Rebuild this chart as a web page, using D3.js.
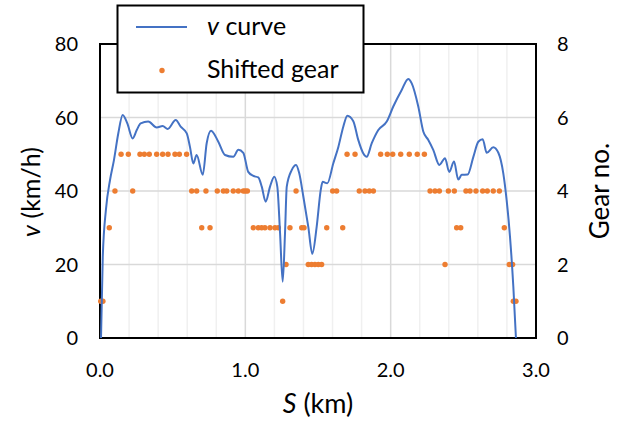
<!DOCTYPE html>
<html>
<head>
<meta charset="utf-8">
<script src="https://cdn.jsdelivr.net/npm/d3@7"></script>
<style>
  body { margin: 0; background: #fff; }
  svg { font-family: Lato, "Open Sans", sans-serif; }
</style>
</head>
<body>
<svg width="624" height="423"></svg>
<script>
// v curve: distance S (km) and speed v (km/h)
var curveS = [0.007, 0.019, 0.041, 0.069, 0.096, 0.126, 0.156, 0.188, 0.225, 0.253, 0.280, 0.332, 0.390, 0.431, 0.466, 0.521, 0.555, 0.597, 0.619, 0.642, 0.665, 0.707, 0.734, 0.764, 0.814, 0.860, 0.917, 0.952, 0.986, 1.020, 1.055, 1.089, 1.113, 1.140, 1.170, 1.199, 1.220, 1.239, 1.257, 1.273, 1.285, 1.319, 1.349, 1.371, 1.399, 1.433, 1.461, 1.491, 1.519, 1.532, 1.564, 1.605, 1.640, 1.674, 1.702, 1.743, 1.777, 1.812, 1.835, 1.870, 1.915, 1.973, 2.018, 2.076, 2.121, 2.145, 2.190, 2.225, 2.259, 2.293, 2.335, 2.374, 2.403, 2.436, 2.465, 2.489, 2.530, 2.569, 2.603, 2.633, 2.661, 2.706, 2.741, 2.775, 2.798, 2.821, 2.844, 2.862];
var curveV = [0, 22, 35, 43, 48.4, 55.7, 60.7, 58.4, 54.3, 56.6, 58.4, 58.9, 57.3, 57.7, 56.9, 59.3, 57.5, 55.7, 52, 47.5, 49.8, 44.4, 53, 56.4, 53.4, 49.8, 49.3, 51.2, 50.4, 45.2, 44.1, 43.7, 41.2, 37.1, 41.2, 43.9, 41.2, 28.5, 15.3, 28.5, 41.2, 45.7, 47.1, 44.8, 38.5, 30.3, 22.9, 30.3, 40.3, 42.5, 42.1, 47.5, 52, 57.5, 60.5, 59, 53.9, 50.2, 49.3, 53, 56.6, 58.9, 63, 67.5, 70.5, 69.3, 63, 56.1, 53.9, 51.2, 47.1, 48.9, 45.2, 48, 43.1, 44.4, 44.5, 49.3, 53.4, 54.1, 50.4, 51.9, 50.4, 44.8, 37.5, 27.6, 14, 0];

// shift points: distance S (km) per gear
var gear1S = [0.005, 0.02, 1.257, 2.844, 2.862];
var gear2S = [1.28, 1.433, 1.456, 1.479, 1.502, 1.525, 2.374, 2.816, 2.839];
var gear3S = [0.064, 0.70, 0.757, 1.055, 1.089, 1.112, 1.135, 1.17, 1.204, 1.227, 1.307, 1.388, 1.404, 1.56, 1.67, 2.454, 2.482, 2.782];
var gear4S = [0.103, 0.225, 0.631, 0.665, 0.729, 0.807, 0.849, 0.872, 0.917, 0.952, 0.986, 1.0, 1.014, 1.349, 1.601, 1.628, 1.784, 1.823, 1.853, 1.881, 2.271, 2.305, 2.335, 2.397, 2.438, 2.518, 2.546, 2.587, 2.633, 2.665, 2.706, 2.748];
var gear5S = [0.145, 0.195, 0.275, 0.305, 0.339, 0.39, 0.431, 0.468, 0.516, 0.546, 0.596, 1.70, 1.755, 1.931, 1.977, 2.014, 2.069, 2.128, 2.183, 2.232];

var xTicks = [0, 1, 2, 3];
var vTicks = [0, 20, 40, 60, 80];
var gearTicks = [0, 2, 4, 6, 8];

var svg = d3.select("svg");
var pL = 100, pR = 536, pT = 44, pB = 338;

var x = d3.scaleLinear().domain([0, 3]).range([pL, pR]);
var y = d3.scaleLinear().domain([0, 80]).range([pB, pT]);
var yg = d3.scaleLinear().domain([0, 8]).range([pB, pT]);

var blue = "#4472C4", orange = "#ED7D31";

// minor vertical grid every 0.2 km
svg.append("g").selectAll("line")
    .data(d3.range(0.2, 3, 0.2).filter(function(d) { return Math.abs(d - Math.round(d)) > 0.01; }))
    .enter().append("line")
    .attr("x1", function(d) { return x(d); }).attr("x2", function(d) { return x(d); })
    .attr("y1", pT).attr("y2", pB)
    .attr("stroke", "#f0f0f0").attr("stroke-width", 1.5);

// major grid
svg.append("g").selectAll("line")
    .data([1, 2])
    .enter().append("line")
    .attr("x1", function(d) { return x(d); }).attr("x2", function(d) { return x(d); })
    .attr("y1", pT).attr("y2", pB)
    .attr("stroke", "#d9d9d9").attr("stroke-width", 1.5);

svg.append("g").selectAll("line")
    .data([20, 40, 60])
    .enter().append("line")
    .attr("x1", pL).attr("x2", pR)
    .attr("y1", function(d) { return y(d); }).attr("y2", function(d) { return y(d); })
    .attr("stroke", "#d9d9d9").attr("stroke-width", 1.5);

// plot frame
svg.append("rect")
    .attr("x", pL).attr("y", pT)
    .attr("width", pR - pL).attr("height", pB - pT)
    .attr("fill", "none").attr("stroke", "#000").attr("stroke-width", 2);

// gear dots
var gears = [gear1S, gear2S, gear3S, gear4S, gear5S];
var dots = [];
gears.forEach(function(arr, i) {
  arr.forEach(function(s) { dots.push({s: s, g: i + 1}); });
});

svg.append("g").selectAll("circle")
    .data(dots)
    .enter().append("circle")
    .attr("cx", function(d) { return x(d.s); })
    .attr("cy", function(d) { return yg(d.g); })
    .attr("r", 2.7)
    .attr("fill", orange);

// v curve
var pts = curveS.map(function(s, i) { return [s, curveV[i]]; });
var line = d3.line()
    .x(function(d) { return x(d[0]); })
    .y(function(d) { return y(d[1]); })
    .curve(d3.curveMonotoneX);

svg.append("path")
    .datum(pts)
    .attr("d", line)
    .attr("fill", "none")
    .attr("stroke", blue)
    .attr("stroke-width", 2);

// tick labels
svg.append("g").selectAll("text")
    .data(vTicks)
    .enter().append("text")
    .attr("x", 78).attr("y", function(d) { return y(d) + 7; })
    .attr("text-anchor", "end")
    .attr("font-size", 20)
    .attr("fill", "#000")
    .text(function(d) { return d; });

svg.append("g").selectAll("text")
    .data(gearTicks)
    .enter().append("text")
    .attr("x", 557).attr("y", function(d) { return yg(d) + 7; })
    .attr("text-anchor", "start")
    .attr("font-size", 20)
    .attr("fill", "#000")
    .text(function(d) { return d; });

svg.append("g").selectAll("text")
    .data(xTicks)
    .enter().append("text")
    .attr("x", function(d) { return x(d); }).attr("y", 377)
    .attr("text-anchor", "middle")
    .attr("font-size", 20)
    .attr("fill", "#000")
    .text(function(d) { return d3.format(".1f")(d); });

// axis titles
var xt = svg.append("text")
    .attr("x", (pL + pR) / 2).attr("y", 413)
    .attr("text-anchor", "middle")
    .attr("font-size", 27);
xt.append("tspan").attr("font-style", "italic").text("S");
xt.append("tspan").text(" (km)");

var yt = svg.append("text")
    .attr("transform", "translate(40,192) rotate(-90)")
    .attr("text-anchor", "middle")
    .attr("font-size", 25);
yt.append("tspan").attr("font-style", "italic").text("v");
yt.append("tspan").text(" (km/h)");

svg.append("text")
    .attr("transform", "translate(609,191) rotate(-90)")
    .attr("text-anchor", "middle")
    .attr("font-size", 26)
    .text("Gear no.");

// legend
var lg = svg.append("g");
lg.append("rect")
    .attr("x", 117.5).attr("y", 5.5)
    .attr("width", 246).attr("height", 87)
    .attr("fill", "#fff").attr("stroke", "#000").attr("stroke-width", 2);
lg.append("line")
    .attr("x1", 136).attr("x2", 187).attr("y1", 27).attr("y2", 27)
    .attr("stroke", blue).attr("stroke-width", 2);
lg.append("circle")
    .attr("cx", 162).attr("cy", 70.5).attr("r", 2.7).attr("fill", orange);
var lt = lg.append("text").attr("x", 207).attr("y", 35).attr("font-size", 25);
lt.append("tspan").attr("font-style", "italic").text("v");
lt.append("tspan").text(" curve");
lg.append("text").attr("x", 207).attr("y", 78).attr("font-size", 25).text("Shifted gear");
</script>
</body>
</html>
